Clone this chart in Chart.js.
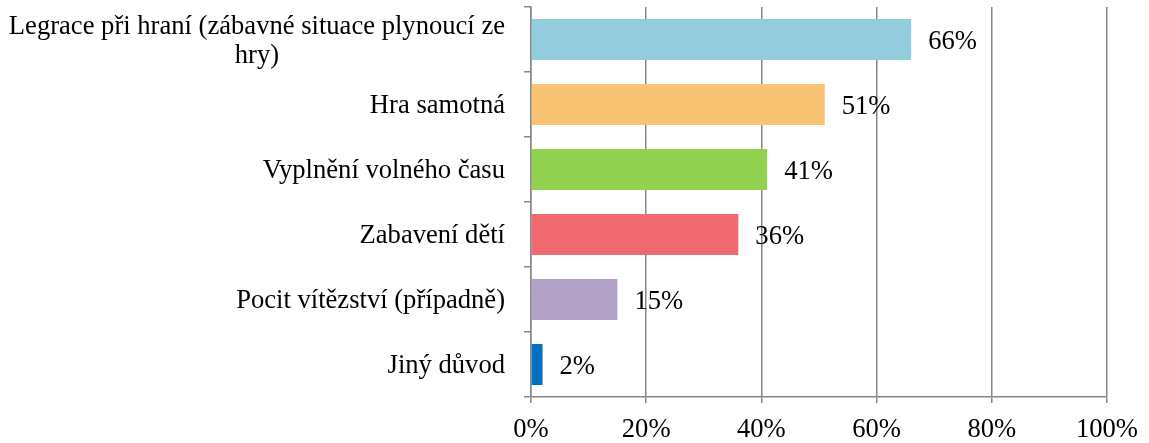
<!DOCTYPE html>
<html>
<head>
<meta charset="utf-8">
<script src="https://cdn.jsdelivr.net/npm/chart.js@4/dist/chart.umd.min.js"></script>
<style>
    html, body { margin: 0; padding: 0; background: #fff; }
    #wrap { width: 1149px; height: 443px; }
</style>
</head>
<body>
<div id="wrap"><canvas id="reasonChart" width="1149" height="443"></canvas></div>
<script>
// Chart data
const categories = [
    ["Legrace při hraní (zábavné situace plynoucí ze", "hry)"],
    "Hra samotná",
    "Vyplnění volného času",
    "Zabavení dětí",
    "Pocit vítězství (případně)",
    "Jiný důvod"
];
const values = [66, 51, 41, 36, 15, 2];
const barColors = ["#93CDDD", "#F8C373", "#92D050", "#F06870", "#B3A2C7", "#0070C0"];
const xTicks = [0, 20, 40, 60, 80, 100];

const fontFamily = "'Liberation Serif', 'Times New Roman', serif";
const fontSize = 26.6;
const axisGray = "#868686";

// Draws category labels (centered multi-line) and value labels next to bars
const labelPlugin = {
    id: "labelPlugin",
    afterDraw(chart) {
        const ctx = chart.ctx;
        const yScale = chart.scales.y;
        const meta = chart.getDatasetMeta(0);
        ctx.save();
        ctx.font = fontSize + "px " + fontFamily;
        ctx.fillStyle = "#000";
        ctx.textBaseline = "middle";

        categories.forEach((label, i) => {
            const y = yScale.getPixelForValue(i);
            const right = yScale.right - 26;
            if (Array.isArray(label)) {
                const lineH = 29;
                const widest = Math.max(...label.map(l => ctx.measureText(l).width));
                const center = right - widest / 2;
                ctx.textAlign = "center";
                label.forEach((l, k) => {
                    ctx.fillText(l, center, y + (k - (label.length - 1) / 2) * lineH + 2);
                });
            } else {
                ctx.textAlign = "right";
                ctx.fillText(label, right, y + 2);
            }
        });

        ctx.textAlign = "left";
        meta.data.forEach((bar, i) => {
            ctx.fillText(values[i] + "%", bar.x + 17, bar.y + 3);
        });
        ctx.restore();
    }
};

const ctx = document.getElementById("reasonChart").getContext("2d");
new Chart(ctx, {
    type: "bar",
    data: {
        labels: categories,
        datasets: [{
            data: values,
            backgroundColor: barColors,
            borderWidth: 0,
            categoryPercentage: 1,
            barPercentage: 0.63
        }]
    },
    options: {
        indexAxis: "y",
        responsive: false,
        animation: false,
        layout: { padding: { top: 7, right: 41, left: 0, bottom: 0 } },
        plugins: {
            legend: { display: false },
            tooltip: { enabled: false }
        },
        scales: {
            x: {
                min: 0,
                max: 100,
                afterBuildTicks(scale) {
                    scale.ticks = xTicks.map(v => ({ value: v }));
                },
                afterFit(scale) { scale.height = 46; },
                grid: {
                    color: axisGray,
                    lineWidth: 1.5,
                    tickLength: 6,
                    tickColor: axisGray
                },
                border: { display: true, color: axisGray, width: 1.5 },
                ticks: {
                    color: "#000",
                    padding: 11,
                    font: { family: fontFamily, size: fontSize },
                    callback: v => v + "%"
                }
            },
            y: {
                offset: true,
                afterFit(scale) { scale.width = 531; },
                grid: {
                    offset: true,
                    drawOnChartArea: false,
                    tickLength: 7,
                    tickColor: axisGray,
                    lineWidth: 1.5
                },
                border: { display: true, color: axisGray, width: 1.5 },
                ticks: { display: false }
            }
        }
    },
    plugins: [labelPlugin]
});
</script>
</body>
</html>
